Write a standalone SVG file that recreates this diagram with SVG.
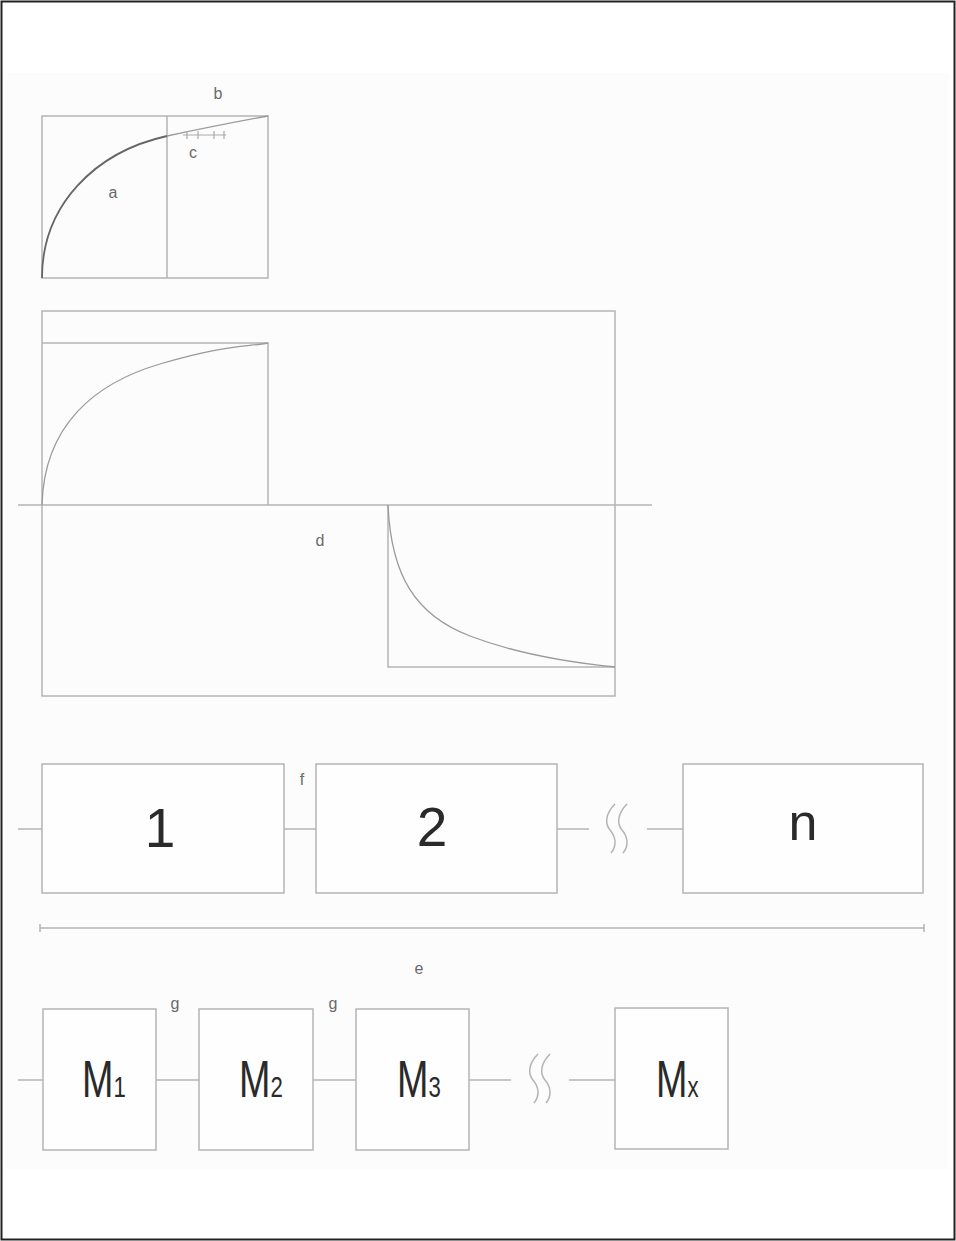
<svg xmlns="http://www.w3.org/2000/svg" width="956" height="1241" viewBox="0 0 956 1241">
<style>
.ln{fill:none;stroke:#b4b4b4;stroke-width:1.5}
.box{fill:#fefefe;stroke:#b4b4b4;stroke-width:1.5}
.crv{fill:none;stroke:#9a9a9a;stroke-width:1.3}
.lbl{font-family:"Liberation Sans",Arial,sans-serif;font-size:16px;fill:#6a6a6a;text-anchor:middle}
.big{font-family:"Liberation Sans",Arial,sans-serif;fill:#2a2a2a;text-anchor:middle}
.m{font-family:"Liberation Sans",Arial,sans-serif;font-size:51px;fill:#2a2a2a}
.sub{font-size:30px}
</style>
<defs>
<path id="sq" d="M8,0 C-2,10 -2,20 3,26 C9,33 10,42 4,49 M20,0 C10,10 10,20 15,26 C21,33 22,42 16,49"/>
</defs>
<rect x="0" y="0" width="956" height="1241" fill="#ffffff"/>
<rect x="6" y="73" width="943" height="1096" fill="#fcfcfc"/>
<rect x="1.5" y="1.5" width="953" height="1238" fill="none" stroke="#222" stroke-width="2"/>

<g id="graph-top">
<rect x="42" y="116" width="226" height="162" class="ln"/>
<line x1="167" y1="116" x2="167" y2="278" class="ln"/>
<path d="M42,278 C42,205 95,152 167,136" fill="none" stroke="#666" stroke-width="1.8"/>
<path d="M167,136 C200,129 235,122 268,116" class="crv"/>
<path d="M183,135 H226 M187,131 V139 M198,131 V139 M214,131 V139 M224,131 V139" fill="none" stroke="#aaa" stroke-width="1.2"/>
<text x="218" y="99" class="lbl">b</text>
<text x="193" y="158" class="lbl">c</text>
<text x="113" y="198" class="lbl">a</text>
</g>

<g id="graph-middle">
<rect x="42" y="311" width="573" height="385" class="ln"/>
<line x1="18" y1="505" x2="652" y2="505" class="ln"/>
<path d="M42,343 H268 V505" class="ln"/>
<path d="M42,505 C44,425 95,383 160,364 S245,347 268,343" class="crv"/>
<path d="M388,505 V667 H615" class="ln"/>
<path d="M388,505 C391,575 415,615 470,636 S585,664 615,667" class="crv"/>
<text x="320" y="546" class="lbl">d</text>
</g>

<g id="connectors">
<line x1="18" y1="829" x2="42" y2="829" class="ln"/>
<line x1="284" y1="829" x2="316" y2="829" class="ln"/>
<line x1="557" y1="829" x2="589" y2="829" class="ln"/>
<line x1="647" y1="829" x2="683" y2="829" class="ln"/>
<use href="#sq" x="607" y="804" class="ln"/>
<line x1="40" y1="928" x2="924" y2="928" class="ln"/>
<line x1="40" y1="924" x2="40" y2="932" class="ln"/>
<line x1="924" y1="924" x2="924" y2="932" class="ln"/>
<line x1="18" y1="1080" x2="43" y2="1080" class="ln"/>
<line x1="156" y1="1080" x2="199" y2="1080" class="ln"/>
<line x1="313" y1="1080" x2="356" y2="1080" class="ln"/>
<line x1="469" y1="1080" x2="511" y2="1080" class="ln"/>
<line x1="569" y1="1080" x2="615" y2="1080" class="ln"/>
<use href="#sq" x="530" y="1054" class="ln"/>
<text x="302" y="785" class="lbl">f</text>
<text x="419" y="974" class="lbl">e</text>
<text x="175" y="1009" class="lbl">g</text>
<text x="333" y="1009" class="lbl">g</text>
</g>

<g id="box-1">
<rect x="42" y="764" width="242" height="129" class="box"/>
<text x="160" y="847" class="big" font-size="55">1</text>
</g>
<g id="box-2">
<rect x="316" y="764" width="241" height="129" class="box"/>
<text x="432" y="846" class="big" font-size="55">2</text>
</g>
<g id="box-n">
<rect x="683" y="764" width="240" height="129" class="box"/>
<text x="803" y="840" class="big" font-size="52">n</text>
</g>

<g id="box-m1">
<rect x="43" y="1009" width="113" height="141" class="box"/>
<text transform="translate(82,1097) scale(0.74,1)" class="m">M<tspan class="sub">1</tspan></text>
</g>
<g id="box-m2">
<rect x="199" y="1009" width="114" height="141" class="box"/>
<text transform="translate(239,1097) scale(0.74,1)" class="m">M<tspan class="sub">2</tspan></text>
</g>
<g id="box-m3">
<rect x="356" y="1009" width="113" height="141" class="box"/>
<text transform="translate(397,1097) scale(0.74,1)" class="m">M<tspan class="sub">3</tspan></text>
</g>
<g id="box-mx">
<rect x="615" y="1008" width="113" height="141" class="box"/>
<text transform="translate(656,1097) scale(0.74,1)" class="m">M<tspan class="sub">x</tspan></text>
</g>
</svg>
